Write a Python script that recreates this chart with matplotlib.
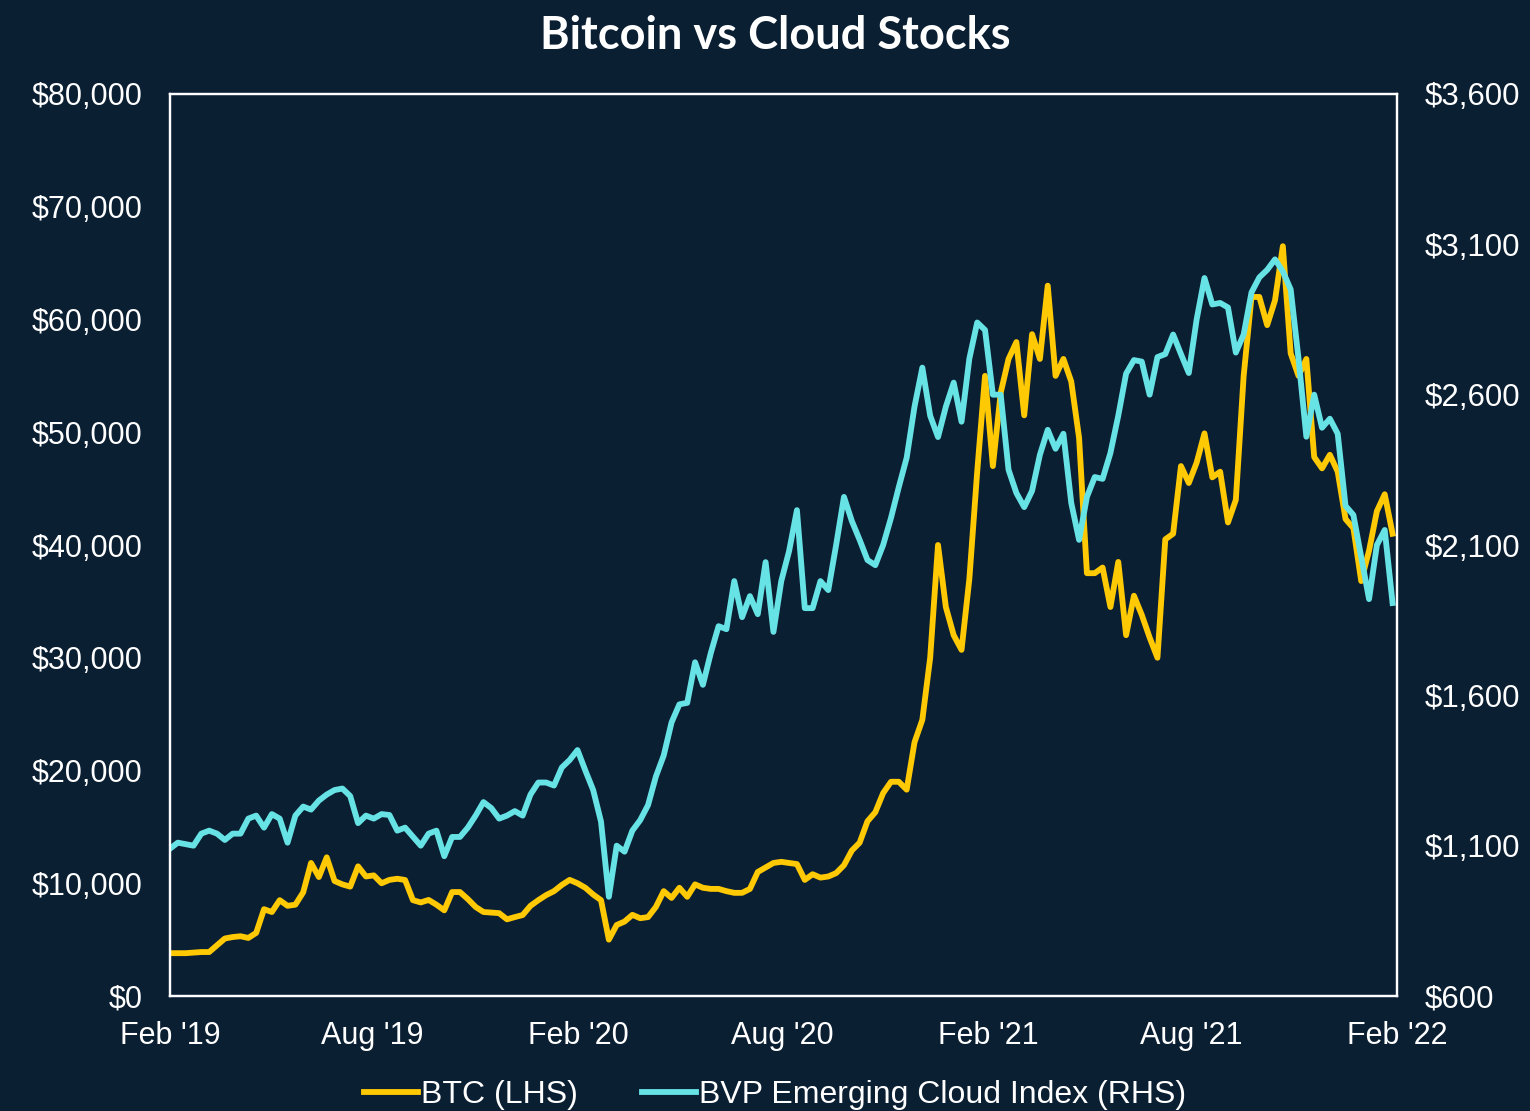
import numpy as np
import pandas as pd
import matplotlib
matplotlib.use("Agg")
import matplotlib.pyplot as plt
import matplotlib.dates as mdates
from matplotlib.ticker import FuncFormatter

# weekly closes, Feb 2019 -> Jan 2022
dates = pd.date_range("2019-02-01", periods=157, freq="7D")

btc = [
    3800, 3800, 3800, 3850, 3900, 3900, 4500, 5100, 5230, 5300,
    5150, 5600, 7700, 7450, 8500, 8000, 8100, 9200, 11800, 10550,
    12300, 10200, 9900, 9700, 11500, 10600, 10700, 10000, 10300, 10400,
    10290, 8500, 8300, 8520, 8100, 7600, 9220, 9220, 8600, 7900,
    7450, 7400, 7350, 6800, 7000, 7180, 8000, 8500, 8950, 9300,
    9850, 10300, 10000, 9600, 9000, 8500, 5000, 6300, 6600, 7200,
    6900, 7000, 7900, 9300, 8700, 9600, 8800, 9900, 9600, 9500,
    9500, 9300, 9150, 9150, 9500, 11000, 11400, 11800, 11900, 11800,
    11700, 10300, 10800, 10500, 10600, 10900, 11600, 12900, 13600, 15500,
    16300, 18000, 19000, 19000, 18300, 22500, 24500, 30000, 40000, 34500,
    32000, 30700, 37000, 46500, 55000, 47000, 53500, 56500, 58000, 51500,
    58700, 56500, 63000, 55000, 56500, 54500, 49500, 37500, 37500, 38000,
    34500, 38500, 32000, 35500, 33800, 31800, 30000, 40500, 41000, 47000,
    45500, 47300, 49900, 46000, 46500, 42000, 44000, 55000, 62000, 62000,
    59500, 61700, 66500, 57000, 55000, 56500, 47800, 46800, 48000, 46500,
    42300, 41500, 36800, 39500, 43000, 44500, 41000,
]

emcloud = [
    1090, 1110, 1105, 1100, 1140, 1150, 1140, 1119, 1140, 1140,
    1190, 1200, 1160, 1205, 1190, 1110, 1200, 1230, 1220, 1250,
    1270, 1285, 1290, 1265, 1175, 1200, 1190, 1205, 1202, 1150,
    1160, 1130, 1100, 1140, 1150, 1065, 1129, 1129, 1160, 1200,
    1245, 1225, 1190, 1200, 1215, 1200, 1270, 1310, 1310, 1300,
    1360, 1385, 1418, 1350, 1285, 1180, 930, 1100, 1080, 1150,
    1185, 1235, 1330, 1400, 1510, 1570, 1575, 1710, 1635, 1740,
    1830, 1820, 1980, 1860, 1930, 1870, 2043, 1811, 1980, 2080,
    2216, 1890, 1890, 1980, 1950, 2100, 2260, 2180, 2117, 2050,
    2033, 2100, 2190, 2293, 2390, 2560, 2690, 2530, 2459, 2560,
    2640, 2510, 2720, 2840, 2815, 2600, 2600, 2350, 2273, 2226,
    2280, 2400, 2483, 2420, 2470, 2240, 2117, 2260, 2326, 2320,
    2406, 2530, 2670, 2715, 2710, 2600, 2725, 2735, 2800, 2735,
    2672, 2850, 2988, 2900, 2905, 2890, 2740, 2800, 2940, 2990,
    3015, 3050, 3010, 2950, 2720, 2460, 2600, 2490, 2520, 2470,
    2230, 2200, 2060, 1920, 2100, 2150, 1907,
]

BG = "#0b1f33"
YEL = "#ffc903"
CYA = "#67e3e6"
plt.rcParams["font.family"] = ["Liberation Sans", "DejaVu Sans"]

fig = plt.figure(figsize=(15.3, 11.11), dpi=100, facecolor=BG)
ax = fig.add_axes([0.1111, 0.1035, 0.8020, 0.8119])
ax.set_facecolor(BG)
ax2 = ax.twinx()

l1, = ax.plot(dates, btc, color=YEL, lw=4.2, label="BTC (LHS)", solid_joinstyle="round")
l2, = ax2.plot(dates, emcloud, color=CYA, lw=4.2, label="BVP Emerging Cloud Index (RHS)",
               solid_joinstyle="round")

ax.set_ylim(0, 80000)
ax.set_yticks(np.arange(0, 80001, 10000))
ax.yaxis.set_major_formatter(FuncFormatter(lambda v, p: f"${v:,.0f}"))
ax2.set_ylim(600, 3600)
ax2.set_yticks(np.arange(600, 3601, 500))
ax2.yaxis.set_major_formatter(FuncFormatter(lambda v, p: f"${v:,.0f}"))

ax.set_xlim(pd.Timestamp("2019-02-01"), pd.Timestamp("2022-02-01"))
ax.xaxis.set_major_locator(mdates.MonthLocator(bymonth=[2, 8]))
ax.xaxis.set_major_formatter(mdates.DateFormatter("%b '%y"))

for a in (ax, ax2):
    a.tick_params(colors="white", labelsize=22, length=0, pad=20)
    for s in a.spines.values():
        s.set_color("white")
        s.set_linewidth(1.6)
ax.tick_params(axis="x", pad=18)
ax2.tick_params(axis="y", labelsize=22.5)

fig.text(0.5065, 0.968, "Bitcoin vs Cloud Stocks", color="white", fontsize=32.5,
         fontweight="bold", family=["Lato", "DejaVu Sans"], ha="center", va="center")

fig.legend(handles=[l1, l2], loc="center", bbox_to_anchor=(0.5065, 0.014), ncol=2,
           frameon=False, fontsize=23, labelcolor="white", handlelength=1.7,
           handletextpad=0.1, columnspacing=2.0)

fig.savefig("out.png", dpi=100, facecolor=BG)
